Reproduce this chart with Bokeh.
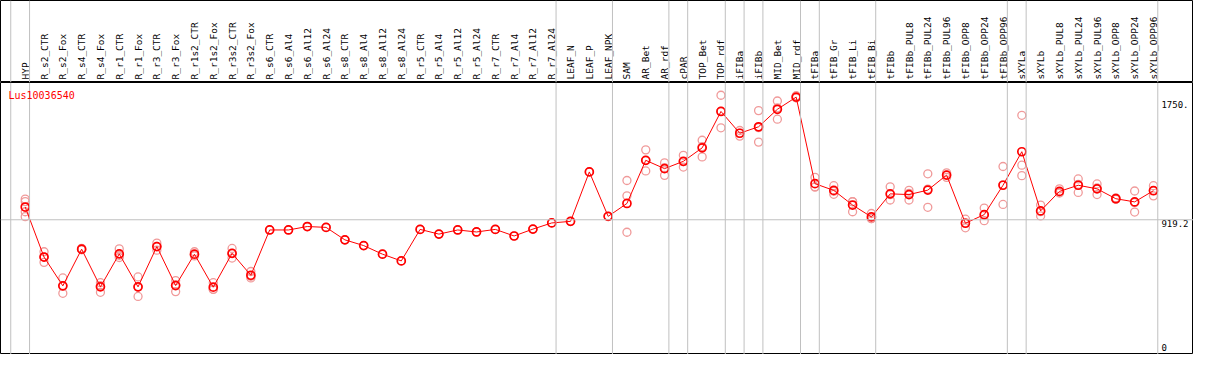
import numpy as np
from bokeh.plotting import figure
from bokeh.models import Range1d, Span, Label
from bokeh.layouts import column
from bokeh.core.properties import value
from bokeh.embed import file_html
from bokeh.resources import INLINE

title = "Lus10036540"
categories = [
    "HYP", "R_s2_CTR", "R_s2_Fox", "R_s4_CTR", "R_s4_Fox", "R_r1_CTR", "R_r1_Fox",
    "R_r3_CTR", "R_r3_Fox", "R_r1s2_CTR", "R_r1s2_Fox", "R_r3s2_CTR", "R_r3s2_Fox",
    "R_s6_CTR", "R_s6_Al4", "R_s6_Al12", "R_s6_Al24", "R_s8_CTR", "R_s8_Al4",
    "R_s8_Al12", "R_s8_Al24", "R_r5_CTR", "R_r5_Al4", "R_r5_Al12", "R_r5_Al24",
    "R_r7_CTR", "R_r7_Al4", "R_r7_Al12", "R_r7_Al24", "LEAF_N", "LEAF_P", "LEAF_NPK",
    "SAM", "AR_Bet", "AR_rdf", "cPAR", "TOP_Bet", "TOP_rdf", "iFIBa", "iFIBb",
    "MID_Bet", "MID_rdf", "tFIBa", "tFIB_Gr", "tFIB_Li", "tFIB_Bi", "tFIBb",
    "tFIBb_PUL8", "tFIBb_PUL24", "tFIBb_PUL96", "tFIBb_OPP8", "tFIBb_OPP24",
    "tFIBb_OPP96", "sXYLa", "sXYLb", "sXYLb_PUL8", "sXYLb_PUL24", "sXYLb_PUL96",
    "sXYLb_OPP8", "sXYLb_OPP24", "sXYLb_OPP96",
]
group_sizes = [1, 28, 3, 3, 1, 2, 1, 1, 2, 1, 3, 7, 1, 7]

means = [
    1008, 659, 458, 714, 451, 681, 451, 732, 460, 679, 449, 685, 532,
    848, 848, 872, 866, 779, 739, 679, 632, 852, 819, 848, 834, 852, 806, 854, 897,
    908, 1253, 943, 1033, 1334, 1276, 1327, 1421, 1675, 1523, 1568, 1690, 1775,
    1171, 1124, 1022, 939, 1100, 1095, 1126, 1231, 895, 955, 1160, 1394, 981,
    1117, 1160, 1135, 1066, 1044, 1122,
]

replicates = [
    [1063, 1046, 975, 941], [696, 622, 659], [513, 406, 456], [720, 710, 712],
    [480, 413, 460], [716, 656, 671], [520, 384, 449], [756, 707, 733],
    [495, 418, 467], [696, 667, 674], [480, 433, 434], [719, 652, 684],
    [558, 513, 525],
    [848], [848], [872], [866], [779], [739], [679], [632], [852], [819], [848],
    [834], [852], [806], [854], [897], [908], [1253], [943],
    [1193, 1086, 832], [1407, 1260, 1334], [1316, 1229, 1282], [1369, 1287, 1325],
    [1474, 1358, 1430], [1788, 1561, 1676], [1542, 1503, 1524], [1681, 1461, 1562],
    [1748, 1621, 1700], [1785, 1770, 1770], [1215, 1147, 1150], [1157, 1097, 1118],
    [1046, 975, 1045], [963, 927, 928], [1149, 1057, 1094], [1124, 1057, 1104],
    [1240, 1006, 1133], [1247, 1215, 1230], [923, 863, 898], [1001, 913, 951],
    [1291, 1026, 1163], [1648, 1300, 1227], [1022, 946, 976], [1135, 1110, 1106],
    [1204, 1110, 1166], [1169, 1095, 1141], [1072, 1062, 1064], [1120, 973, 1039],
    [1157, 1086, 1123],
]

y_labels = [1750, 919.2, 0]
y_label_texts = ["1750.", "919.2", "0"]

FONT = value("DejaVu Sans Mono")
W = 1193
H_TOP = 82
H_BOT = 272

n = len(categories)
xs = np.arange(n)
x_range = Range1d(-1.315, n - 1 + 2.13)

# boundaries between groups
bounds = [-1 + 0.23] + [c - 1 + 0.23 for c in np.cumsum(group_sizes)]

# ---- top label strip ----
top = figure(width=W, height=H_TOP, x_range=x_range, y_range=Range1d(0, 1),
             output_backend="svg", toolbar_location=None, min_border=0,
             background_fill_color="white", border_fill_color="white")
top.axis.visible = False
top.grid.visible = False
top.outline_line_color = "black"
for b in bounds:
    top.add_layout(Span(location=b, dimension="height", line_color="#c0c0c0", line_width=1))
top.text(x=xs, y=[0] * n, text=categories, angle=np.pi / 2, text_align="left",
         text_baseline="middle", y_offset=-3, text_font=FONT,
         text_font_size="9.5px", text_color="black")

# ---- main plot ----
p = figure(width=W, height=H_BOT, x_range=x_range, y_range=Range1d(-21, 1877),
           output_backend="svg", toolbar_location=None, min_border=0,
           background_fill_color="white", border_fill_color="white")
p.axis.visible = False
p.grid.visible = False
p.outline_line_color = "black"
for b in bounds:
    p.add_layout(Span(location=b, dimension="height", line_color="#c0c0c0", line_width=1))
p.add_layout(Span(location=y_labels[1], dimension="width", line_color="#c0c0c0", line_width=1))

rx = [i for i, r in enumerate(replicates) for _ in r]
ry = [v for r in replicates for v in r]
p.scatter(rx, ry, marker="circle", size=8, fill_color=None,
          line_color="#f09a9a", line_width=1.3)
p.line(xs, means, line_color="red", line_width=1)
p.scatter(xs, means, marker="circle", size=8, fill_color=None,
          line_color="red", line_width=1.7)

baselines = ["top", "top", "bottom"]
for yv, t, bl in zip(y_labels, y_label_texts, baselines):
    p.text(x=[n - 1], y=[yv], text=[t], x_offset=8, text_align="left",
           text_baseline=bl, text_font=FONT, text_font_size="9px", text_color="black")

p.add_layout(Label(x=8, y=H_BOT - 7, x_units="screen", y_units="screen", text=title,
                   text_baseline="top", text_align="left", text_font="DejaVu Sans Mono",
                   text_font_size="10px", text_color="red"))

layout = column(top, p, spacing=0)
open("out.html", "w").write(file_html(layout, INLINE))
